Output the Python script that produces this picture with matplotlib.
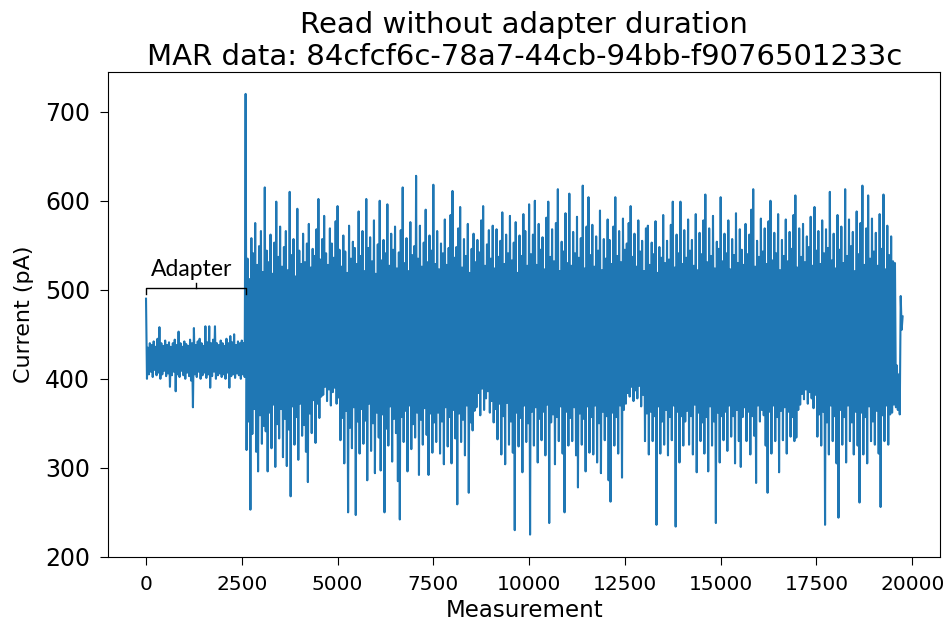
import numpy as np
import matplotlib.pyplot as plt

# the trace alternates between upper and lower samples, one every 25 measurements
step = 25

# adapter part (measurements 0..2575)
adapter_peaks = [
    490, 435, 440, 438, 442, 436, 445, 458, 440, 437,
    443, 438, 441, 436, 440, 444, 438, 453, 440, 436,
    442, 439, 437, 444, 440, 457, 438, 442, 445, 440,
    437, 459, 441, 459, 440, 444, 459, 440, 438, 443,
    440, 437, 445, 440, 448, 441, 450, 438, 442, 440,
    443, 440,
]
adapter_troughs = [
    400, 405, 408, 402, 410, 404, 407, 400, 405, 409,
    403, 406, 391, 404, 408, 386, 405, 402, 409, 404,
    400, 407, 403, 398, 368, 405, 402, 408, 400, 404,
    407, 401, 405, 390, 403, 408, 400, 404, 406, 402,
    405, 400, 407, 390, 403, 405, 401, 406, 404, 400,
    405, 402,
]

# read without adapter (measurements 2600..19750)
read_peaks = [
    720, 535, 512, 558, 541, 575, 528, 549, 566, 520,
    615, 544, 531, 562, 518, 553, 599, 537, 571, 526,
    548, 566, 522, 610, 539, 557, 515, 591, 544, 529,
    563, 531, 552, 574, 525, 546, 538, 568, 602, 534,
    557, 583, 541, 528, 569, 552, 536, 577, 594, 545,
    526, 561, 543, 519, 572, 535, 554, 547, 529, 588,
    538, 566, 521, 602, 547, 559, 532, 578, 518, 551,
    600, 533, 556, 541, 596, 527, 563, 545, 571, 524,
    542, 567, 615, 530, 558, 521, 576, 539, 549, 628,
    535, 572, 526, 553, 590, 531, 561, 544, 618, 529,
    566, 523, 552, 541, 579, 528, 547, 584, 611, 536,
    548, 569, 593, 525, 557, 538, 574, 519, 546, 563,
    531, 556, 542, 578, 594, 527, 551, 567, 535, 572,
    524, 568, 537, 555, 587, 529, 562, 541, 583, 533,
    553, 576, 519, 561, 538, 585, 566, 527, 596, 540,
    562, 600, 528, 574, 545, 559, 523, 581, 599, 537,
    568, 532, 575, 613, 521, 554, 543, 586, 530, 608,
    527, 565, 541, 582, 536, 558, 617, 524, 571, 604,
    539, 573, 526, 560, 544, 589, 522, 557, 535, 579,
    556, 529, 571, 604, 538, 566, 531, 580, 545, 552,
    575, 594, 537, 563, 526, 578, 543, 555, 521, 569,
    572, 528, 553, 540, 577, 519, 548, 536, 584, 530,
    555, 534, 573, 599, 525, 562, 541, 599, 529, 567,
    536, 579, 544, 556, 527, 585, 522, 564, 540, 578,
    607, 531, 569, 538, 583, 524, 554, 546, 604, 532,
    563, 541, 578, 523, 557, 539, 586, 530, 568, 545,
    528, 574, 540, 562, 590, 613, 526, 555, 537, 580,
    543, 569, 529, 577, 600, 533, 564, 541, 585, 522,
    556, 538, 579, 532, 565, 546, 584, 606, 525, 569,
    537, 574, 531, 560, 548, 582, 527, 593, 544, 566,
    529, 578, 541, 568, 547, 610, 533, 563, 524, 584,
    545, 571, 530, 613, 538, 579, 549, 565, 521, 588,
    540, 575, 617, 528, 569, 606, 535, 580, 543, 564,
    527, 585, 546, 607, 523, 572, 539, 560, 532, 530,
    415, 405, 493, 470,
]
read_troughs = [
    320, 352, 253, 338, 366, 318, 296, 359, 327, 347,
    341, 296, 362, 322, 371, 301, 349, 333, 366, 312,
    355, 302, 343, 268, 369, 326, 357, 309, 372, 336,
    348, 318, 284, 361, 339, 376, 328, 372, 356, 380,
    382, 391, 375, 388, 370, 385, 390, 372, 379, 331,
    356, 305, 364, 250, 345, 322, 368, 247, 352, 316,
    366, 327, 353, 286, 372, 319, 350, 294, 362, 334,
    297, 360, 250, 344, 325, 369, 307, 355, 339, 285,
    242, 357, 329, 364, 296, 370, 321, 349, 334, 362,
    292, 354, 326, 367, 337, 292, 361, 317, 351, 329,
    362, 316, 352, 304, 368, 324, 357, 305, 365, 333,
    259, 361, 329, 354, 314, 370, 272, 351, 342, 364,
    368, 384, 359, 389, 365, 378, 386, 362, 375, 351,
    366, 332, 372, 315, 358, 304, 373, 326, 352, 317,
    230, 362, 324, 356, 295, 370, 329, 350, 225, 363,
    325, 368, 306, 355, 331, 363, 314, 371, 238, 351,
    360, 304, 357, 330, 369, 316, 250, 363, 325, 356,
    330, 368, 314, 278, 361, 326, 355, 296, 369, 317,
    357, 315, 370, 306, 350, 294, 363, 331, 358, 286,
    262, 362, 325, 357, 316, 370, 289, 365, 372, 384,
    380, 391, 375, 387, 378, 392, 369, 382, 330, 361,
    315, 363, 330, 358, 236, 369, 316, 352, 326, 365,
    314, 357, 331, 370, 234, 363, 306, 358, 325, 352,
    364, 326, 358, 315, 371, 295, 362, 330, 351, 316,
    357, 296, 369, 325, 352, 238, 362, 306, 358, 331,
    363, 319, 370, 335, 358, 305, 365, 330, 301, 357,
    368, 330, 363, 315, 358, 336, 283, 370, 352, 365,
    359, 325, 272, 363, 316, 370, 330, 357, 295, 364,
    331, 368, 316, 363, 335, 357, 330, 334, 365, 371,
    383, 377, 388, 372, 385, 378, 367, 382, 335, 360,
    325, 363, 236, 351, 315, 370, 330, 358, 305, 244,
    365, 326, 357, 306, 370, 330, 351, 315, 363, 325,
    261, 362, 315, 357, 305, 369, 330, 352, 326, 364,
    316, 256, 359, 330, 370, 326, 360, 362, 371, 368,
    365, 360, 455,
]


def interleave(peaks, troughs):
    out = np.empty(len(peaks) + len(troughs))
    out[0::2] = peaks
    out[1::2] = troughs
    return out


current = np.concatenate([interleave(adapter_peaks, adapter_troughs),
                          interleave(read_peaks, read_troughs)])
measurement = np.arange(len(current)) * step
adapter_end = 2 * len(adapter_peaks) * step

fig = plt.figure(figsize=(9.49, 6.25), dpi=100)
ax = fig.add_axes([0.114, 0.109, 0.877, 0.776])

ax.plot(measurement, current, color='#1f77b4', linewidth=1.5)

# bracket over the adapter part
bracket_y = 502
ax.plot([0, 0, adapter_end, adapter_end], [bracket_y - 7, bracket_y, bracket_y, bracket_y - 7],
        color='black', linewidth=1)
ax.plot([adapter_end / 2, adapter_end / 2], [bracket_y, bracket_y + 6], color='black', linewidth=1)
ax.text(adapter_end / 2 - 100, bracket_y + 9, 'Adapter', ha='center', va='bottom',
        fontsize=16.5, family='Lato')

ax.set_title('Read without adapter duration\nMAR data: 84cfcf6c-78a7-44cb-94bb-f9076501233c',
             fontsize=21, pad=5)
ax.set_xlabel('Measurement', fontsize=16.5, labelpad=4)
ax.set_ylabel('Current (pA)', fontsize=16, labelpad=8)
ax.tick_params(axis='both', length=6, pad=7)
ax.tick_params(axis='y', labelsize=17)
ax.tick_params(axis='x', labelsize=14.5)
ax.set_yticks([200, 300, 400, 500, 600, 700])

plt.savefig('out.png')
